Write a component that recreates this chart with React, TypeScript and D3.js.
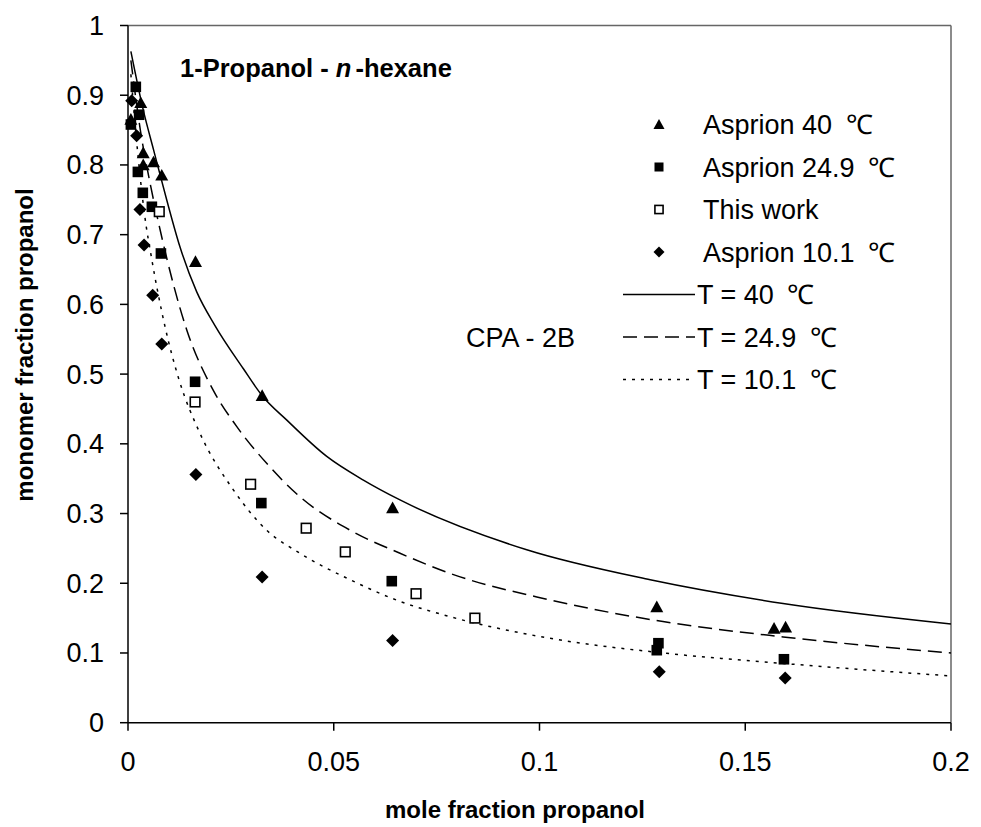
import React from "react";
import * as d3 from "d3";

const W = 981;
const H = 827;

// ---- data ----
const xTickValues = [0, 0.05, 0.1, 0.15, 0.2];
const xTickLabels = ["0", "0.05", "0.1", "0.15", "0.2"];
const yTickValues = [0, 0.1, 0.2, 0.3, 0.4, 0.5, 0.6, 0.7, 0.8, 0.9, 1];
const yTickLabels = ["0", "0.1", "0.2", "0.3", "0.4", "0.5", "0.6", "0.7", "0.8", "0.9", "1"];

// Asprion 40 °C (triangles)
const asprion40: [number, number][] = [
  [0.0031, 0.889], [0.0007, 0.865], [0.0037, 0.817], [0.0037, 0.8], [0.0062, 0.804],
  [0.0082, 0.785], [0.0164, 0.661], [0.0326, 0.469], [0.0643, 0.308], [0.1285, 0.166],
  [0.157, 0.135], [0.1598, 0.137],
];
// Asprion 24.9 °C (filled squares)
const asprion249: [number, number][] = [
  [0.0019, 0.912], [0.0027, 0.872], [0.0007, 0.858], [0.0024, 0.79], [0.0036, 0.76],
  [0.0058, 0.74], [0.008, 0.673], [0.0163, 0.489], [0.0324, 0.315], [0.0641, 0.203],
  [0.1289, 0.114], [0.1285, 0.104], [0.1594, 0.091],
];
// This work (open squares)
const thisWork: [number, number][] = [
  [0.0076, 0.733], [0.0163, 0.46], [0.0298, 0.342], [0.0433, 0.279], [0.0528, 0.245],
  [0.07, 0.185], [0.0843, 0.15],
];
// Asprion 10.1 °C (diamonds)
const asprion101: [number, number][] = [
  [0.0009, 0.892], [0.0021, 0.842], [0.0029, 0.736], [0.0039, 0.685], [0.006, 0.613],
  [0.0082, 0.543], [0.0165, 0.356], [0.0326, 0.209], [0.0643, 0.118], [0.1291, 0.073],
  [0.1597, 0.064],
];
// CPA-2B model curves
const curve40: [number, number][] = [
  [0.0007, 0.963], [0.0037, 0.879], [0.0062, 0.822], [0.0094, 0.75], [0.0126, 0.683],
  [0.0167, 0.618], [0.0211, 0.57], [0.028, 0.508], [0.0326, 0.469], [0.0386, 0.434],
  [0.0483, 0.382], [0.0572, 0.348], [0.0661, 0.3195], [0.0969, 0.248], [0.1269, 0.205],
  [0.1592, 0.171], [0.2, 0.1416],
];
const curve249: [number, number][] = [
  [0.0007, 0.95], [0.003, 0.85], [0.0055, 0.77], [0.0078, 0.707], [0.0143, 0.563],
  [0.0207, 0.477], [0.0264, 0.425], [0.0337, 0.372], [0.0418, 0.324], [0.054, 0.276],
  [0.0661, 0.243], [0.0783, 0.214], [0.1026, 0.176], [0.13, 0.145], [0.1592, 0.123],
  [0.2, 0.1],
];
const curve101: [number, number][] = [
  [0.0007, 0.93], [0.002, 0.84], [0.004, 0.73], [0.0058, 0.664], [0.009, 0.568],
  [0.0124, 0.492], [0.0175, 0.415], [0.0256, 0.334], [0.0337, 0.276], [0.0418, 0.243],
  [0.054, 0.205], [0.0661, 0.174], [0.0783, 0.152], [0.1026, 0.121], [0.1309, 0.0995],
  [0.1592, 0.085], [0.2, 0.067],
];

const markerLabels = ["Asprion 40\u2002\u2103", "Asprion 24.9\u2002\u2103", "This work", "Asprion 10.1\u2002\u2103"];
const lineLabels = ["T = 40\u2002\u2103", "T = 24.9\u2002\u2103", "T = 10.1\u2002\u2103"];

const FONT = "'Liberation Sans', Arial, Helvetica, sans-serif";

type Kind = "tri" | "sq" | "osq" | "dia";

function Marker({ kind, cx, cy, s = 1 }: { kind: Kind; cx: number; cy: number; s?: number }) {
  if (kind === "tri") {
    const r = 6.5 * s;
    return <path d={`M${cx},${cy - r} L${cx + r},${cy + r * 0.8} L${cx - r},${cy + r * 0.8}Z`} fill="#000" />;
  }
  if (kind === "sq") {
    const h = 5.3 * s;
    return <rect x={cx - h} y={cy - h} width={2 * h} height={2 * h} fill="#000" />;
  }
  if (kind === "osq") {
    const h = 4.8 * s;
    return <rect x={cx - h} y={cy - h} width={2 * h} height={2 * h} fill="#fff" stroke="#000" strokeWidth={1.6} />;
  }
  const r = 6.5 * s;
  return <path d={`M${cx},${cy - r} L${cx + r},${cy} L${cx},${cy + r} L${cx - r},${cy}Z`} fill="#000" />;
}

export default function App() {
  const x = d3.scaleLinear().domain([0, 0.2]).range([128, 951]);
  const y = d3.scaleLinear().domain([0, 1]).range([722.7, 25.5]);
  const line = d3
    .line<[number, number]>()
    .x((d) => x(d[0]))
    .y((d) => y(d[1]))
    .curve(d3.curveMonotoneX);

  const series: { kind: Kind; data: [number, number][] }[] = [
    { kind: "tri", data: asprion40 },
    { kind: "sq", data: asprion249 },
    { kind: "osq", data: thisWork },
    { kind: "dia", data: asprion101 },
  ];
  const curves = [
    { data: curve40, dash: undefined as string | undefined },
    { data: curve249, dash: "14,7" },
    { data: curve101, dash: "3,6" },
  ];

  const x0 = x(0);
  const x1 = x(0.2);
  const y0 = y(0);
  const y1 = y(1);

  const legRow0 = 124.5;
  const legStep = 42.5;

  return (
    <svg
      width={W}
      height={H}
      style={{ position: "absolute", left: 0, top: 0, background: "#fff" }}
      fontFamily={FONT}
    >
      <rect x={0} y={0} width={W} height={H} fill="#fff" />
      {/* plot frame */}
      <line x1={x0} y1={y1} x2={x1} y2={y1} stroke="#666" strokeWidth={1.5} />
      <line x1={x1} y1={y1} x2={x1} y2={y0} stroke="#666" strokeWidth={1.5} />

      {/* curves */}
      <defs>
        <clipPath id="clip">
          <rect x={x0} y={y1} width={x1 - x0 + 8} height={y0 - y1} />
        </clipPath>
      </defs>
      <g clipPath="url(#clip)">
        {curves.map((c, i) => (
          <path key={i} d={line(c.data) || ""} fill="none" stroke="#000" strokeWidth={1.5} strokeDasharray={c.dash} />
        ))}
      </g>

      {/* axes */}
      <line x1={x0} y1={y0} x2={x1} y2={y0} stroke="#000" strokeWidth={1.5} />
      <line x1={x0} y1={y0} x2={x0} y2={y1} stroke="#000" strokeWidth={1.5} />
      {xTickValues.map((v, i) => (
        <g key={"xt" + i}>
          <line x1={x(v)} y1={y0} x2={x(v)} y2={y0 + 8} stroke="#000" strokeWidth={1.5} />
          <text x={x(v)} y={771} textAnchor="middle" fontSize={27} fill="#000">
            {xTickLabels[i]}
          </text>
        </g>
      ))}
      {yTickValues.map((v, i) => (
        <g key={"yt" + i}>
          <line x1={x0 - 8} y1={y(v)} x2={x0} y2={y(v)} stroke="#000" strokeWidth={1.5} />
          <text x={104} y={y(v) + 9.5} textAnchor="end" fontSize={27} fill="#000">
            {yTickLabels[i]}
          </text>
        </g>
      ))}

      {/* markers */}
      {series.map((s, si) =>
        s.data.map((d, j) => <Marker key={si + "-" + j} kind={s.kind} cx={x(d[0])} cy={y(d[1])} />)
      )}

      {/* axis titles */}
      <text x={515} y={818} textAnchor="middle" fontSize={24} fontWeight="bold" fill="#000">
        mole fraction propanol
      </text>
      <text
        transform={`translate(33,345) rotate(-90)`}
        textAnchor="middle"
        fontSize={24}
        fontWeight="bold"
        fill="#000"
      >
        monomer fraction propanol
      </text>

      {/* chart title */}
      <text x={180} y={77} fontSize={25.5} fontWeight="bold" fill="#000">
        1-Propanol -{" "}
        <tspan fontStyle="italic">n</tspan>
        <tspan dx={4}>-hexane</tspan>
      </text>

      {/* CPA label */}
      <text x={466} y={legRow0 + legStep * 5 + 9.5} fontSize={27} fill="#000">
        CPA - 2B
      </text>

      {/* legend */}
      {series.map((s, i) => (
        <g key={"lg" + i}>
          <Marker kind={s.kind} cx={659} cy={legRow0 + legStep * i} s={0.85} />
          <text x={703} y={legRow0 + legStep * i + 9.5} fontSize={27} fill="#000">
            {markerLabels[i]}
          </text>
        </g>
      ))}
      {curves.map((c, i) => {
        const yy = legRow0 + legStep * (4 + i);
        return (
          <g key={"ll" + i}>
            <line x1={623} y1={yy} x2={695} y2={yy} stroke="#000" strokeWidth={1.5} strokeDasharray={c.dash} />
            <text x={697} y={yy + 9.5} fontSize={27} fill="#000">
              {lineLabels[i]}
            </text>
          </g>
        );
      })}
    </svg>
  );
}
